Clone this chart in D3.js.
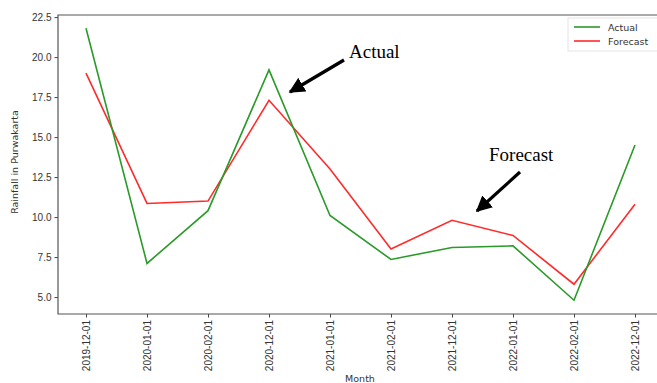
<!DOCTYPE html>
<html>
<head>
<meta charset="utf-8">
<script src="https://cdn.jsdelivr.net/npm/d3@7"></script>
<style>
  body { margin: 0; background: #fff; }
  svg { display: block; font-family: "DejaVu Sans", sans-serif; }
</style>
</head>
<body>
<div id="chart"></div>
<script>
const months = ['2019-12-01', '2020-01-01', '2020-02-01', '2020-12-01', '2021-01-01',
    '2021-02-01', '2021-12-01', '2022-01-01', '2022-02-01', '2022-12-01'];
const actual = [21.8, 7.1, 10.4, 19.2, 10.1, 7.35, 8.1, 8.2, 4.8, 14.5];
const forecast = [19.0, 10.85, 11.0, 17.3, 13.0, 8.0, 9.8, 8.85, 5.8, 10.8];
const yTicks = [5.0, 7.5, 10.0, 12.5, 15.0, 17.5, 20.0, 22.5];

const W = 657, H = 383;
const margin = { top: 15, left: 58, bottom: 314 };

const svg = d3.select('#chart').append('svg')
    .attr('width', W)
    .attr('height', H);

const x = d3.scalePoint()
    .domain(months)
    .range([86, 635]);

const y = d3.scaleLinear()
    .domain([3.94, 22.63])
    .range([margin.bottom, margin.top]);

// axes
const yAxis = svg.append('g')
    .attr('transform', `translate(${margin.left},0)`)
    .call(d3.axisLeft(y).tickValues(yTicks).tickFormat(d3.format('.1f')).tickSize(3.5).tickPadding(3));
yAxis.select('.domain').remove();
yAxis.selectAll('text').style('font-size', '10px').attr('fill', '#333');
yAxis.selectAll('line').attr('stroke', '#444');

const xAxis = svg.append('g')
    .attr('transform', `translate(0,${margin.bottom})`)
    .call(d3.axisBottom(x).tickSize(3.5).tickPadding(3));
xAxis.select('.domain').remove();
xAxis.selectAll('line').attr('stroke', '#444');
xAxis.selectAll('text')
    .attr('transform', 'rotate(-90)')
    .attr('text-anchor', 'end')
    .attr('dy', '0.35em')
    .attr('x', -6)
    .attr('y', 0)
    .style('font-size', '10px')
    .attr('fill', '#333');

// spines (right side runs off the picture)
svg.append('path')
    .attr('d', `M${W + 5},${margin.top}H${margin.left}V${margin.bottom}H${W + 5}`)
    .attr('fill', 'none')
    .attr('stroke', '#555')
    .attr('stroke-width', 1.2);

// lines
const line = d3.line()
    .x((d, i) => x(months[i]))
    .y(d => y(d));

svg.append('path')
    .datum(forecast)
    .attr('d', line)
    .attr('fill', 'none')
    .attr('stroke', '#ff2a2a')
    .attr('stroke-width', 1.6);

svg.append('path')
    .datum(actual)
    .attr('d', line)
    .attr('fill', 'none')
    .attr('stroke', '#2a9a2a')
    .attr('stroke-width', 1.6);

// axis labels
svg.append('text')
    .attr('transform', 'rotate(-90)')
    .attr('x', -162)
    .attr('y', 18)
    .attr('text-anchor', 'middle')
    .style('font-size', '9.5px')
    .attr('fill', '#333')
    .text('Rainfall in Purwakarta');

svg.append('text')
    .attr('x', 360)
    .attr('y', 382)
    .attr('text-anchor', 'middle')
    .style('font-size', '9.5px')
    .attr('fill', '#333')
    .text('Month');

// legend
const legend = svg.append('g').attr('transform', 'translate(568,18)');
legend.append('rect')
    .attr('width', 92).attr('height', 33)
    .attr('fill', '#fff')
    .attr('stroke', '#e4e4e4');
[['Actual', '#2a9a2a'], ['Forecast', '#ff2a2a']].forEach(([name, c], i) => {
    legend.append('line')
        .attr('x1', 6).attr('x2', 32)
        .attr('y1', 9 + i * 14).attr('y2', 9 + i * 14)
        .attr('stroke', c).attr('stroke-width', 1.6);
    legend.append('text')
        .attr('x', 40).attr('y', 12.5 + i * 14)
        .style('font-size', '9.5px')
        .attr('fill', '#333')
        .text(name);
});

// annotations
svg.append('defs').append('marker')
    .attr('id', 'head')
    .attr('viewBox', '0 0 10 10')
    .attr('refX', 9).attr('refY', 5)
    .attr('markerWidth', 5).attr('markerHeight', 5)
    .attr('orient', 'auto')
    .append('path')
    .attr('d', 'M0,0L10,5L0,10z')
    .attr('fill', '#000');

const notes = [
    { text: 'Actual', tx: 349, ty: 58, x1: 344, y1: 60, x2: 290, y2: 92 },
    { text: 'Forecast', tx: 489, ty: 161, x1: 520, y1: 172, x2: 477, y2: 211 }
];
notes.forEach(n => {
    svg.append('text')
        .attr('x', n.tx).attr('y', n.ty)
        .style('font-family', '"Liberation Serif", "DejaVu Serif", serif')
        .style('font-size', '19px')
        .attr('fill', '#000')
        .text(n.text);
    svg.append('line')
        .attr('x1', n.x1).attr('y1', n.y1)
        .attr('x2', n.x2).attr('y2', n.y2)
        .attr('stroke', '#000')
        .attr('stroke-width', 3.2)
        .attr('marker-end', 'url(#head)');
});
</script>
</body>
</html>
